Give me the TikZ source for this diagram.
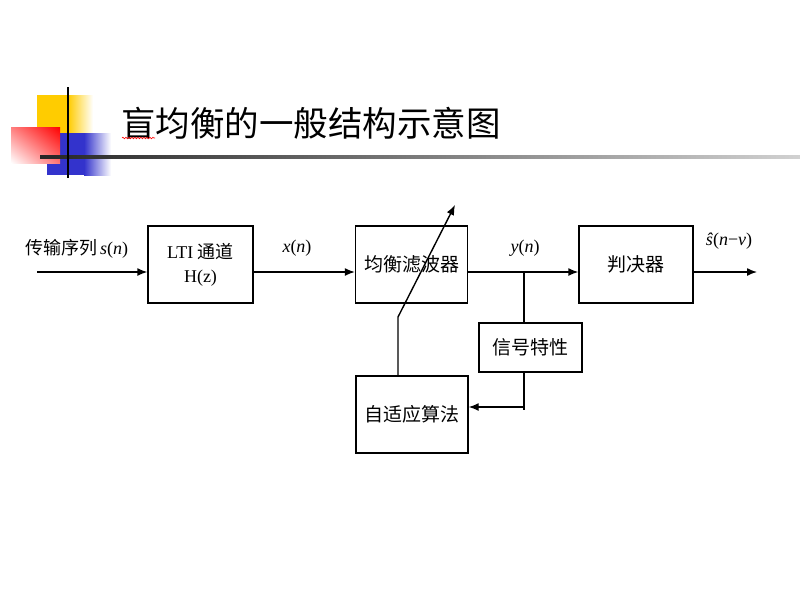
\RequirePackage{fix-cm}
\documentclass[tikz,border=0pt]{standalone}
\usepackage{fontspec}
\setmainfont{Liberation Serif}
\newfontfamily\cjk{Noto Sans CJK SC}
\usetikzlibrary{arrows.meta,decorations.pathmorphing,shadings}

\definecolor{deckyellow}{RGB}{255,204,0}
\definecolor{deckblue}{RGB}{51,51,204}

\tikzset{
  blk/.style={draw, line width=1.4pt, minimum height=77pt, inner sep=0pt, align=center,
    font=\cjk\fontsize{19}{24}\selectfont},
  sig/.style={line width=1.4pt},
  arr/.style={line width=1.4pt, -{Latex[length=10pt,width=8pt]}},
  lbl/.style={inner sep=0pt, font=\fontsize{18}{20}\selectfont}
}

\begin{document}
\begin{tikzpicture}[x=1pt,y=-1pt]
\useasboundingbox (0,0) rectangle (800,600);
\fill[white] (0,0) rectangle (800,600);

\fill[deckyellow] (37,95) rectangle (68,133);
\shade[left color=deckyellow, right color=white] (68,95) rectangle (93,133);
\fill[deckblue] (47,133) rectangle (84,175);
\shade[left color=deckblue, right color=white] (84,133) rectangle (111,175);
\shade[shading=bilinear interpolation, lower left=white, upper right=red,
  upper left=red!50, lower right=red!55] (11,127) rectangle (60,163);
\shade[left color=black!85, right color=black!18] (40,155.5) rectangle (800,158.5);
\draw[line width=2pt] (68,87) -- (68,178);

\node[anchor=west, inner sep=0pt, font=\cjk\fontsize{34.5}{36}\selectfont] (title) at (121,123) {盲均衡的一般结构示意图};
\draw[red, line width=0.6pt, decorate, decoration={snake, amplitude=0.8pt, segment length=3pt}] (122,138) -- (155,138);

\coordinate (src) at (37,272);
\coordinate (out) at (757,272);
\coordinate (tap) at (524,272);
\coordinate (fb) at (524,407);
\coordinate (fbend) at (524,410);
\coordinate (bend) at (398,317);
\coordinate (tip) at (455,205);

\node[blk, minimum width=105pt] (lti) at (200.5,264.5) {\rmfamily\fontsize{18}{24}\selectfont LTI {\cjk 通道}\\\rmfamily\fontsize{18}{24}\selectfont H(z)};
\node[blk, minimum width=112pt] (eq) at (411.5,264.5) {均衡滤波器};
\node[blk, minimum width=114pt] (dec) at (636,264.5) {判决器};
\node[blk, minimum width=103pt, minimum height=49pt] (sigc) at (530.5,347.5) {信号特性};
\node[blk, minimum width=112pt] (ada) at (412,414.5) {自适应算法};

\node[lbl, anchor=west] (slbl) at (25,249) {{\cjk 传输序列}\,\textit{s}(\textit{n})};
\node[lbl] (xlbl) at (297,248) {\textit{x}(\textit{n})};
\node[lbl] (ylbl) at (525,248) {\textit{y}(\textit{n})};
\node[lbl] (shat) at (729,241) {\textit{ŝ}(\textit{n}−\textit{ν})};

\draw[arr] (src) -- (lti.west |- src);
\draw[arr] (lti.east |- src) -- (eq.west |- src);
\draw[arr] (eq.east |- src) -- (dec.west |- src);
\draw[arr] (dec.east |- src) -- (out);
\draw[sig] (tap) -- (tap |- sigc.north);
\draw[sig] (tap |- sigc.south) -- (fbend);
\draw[arr] (fb) -- (ada.east |- fb);
\draw[arr] (bend |- ada.north) -- (bend) -- (tip);
\end{tikzpicture}
\end{document}
